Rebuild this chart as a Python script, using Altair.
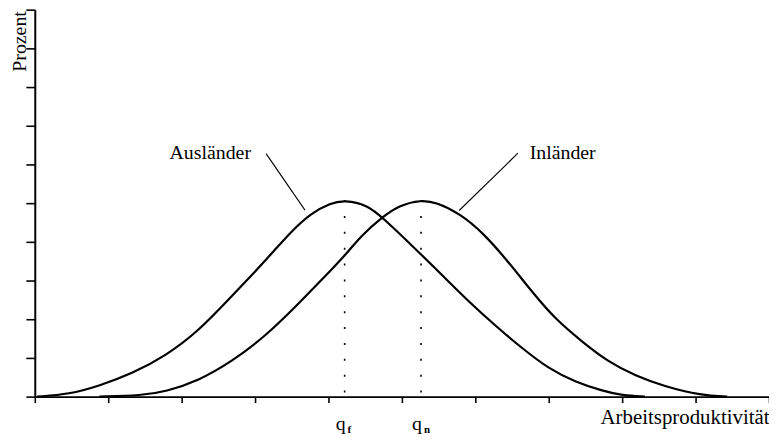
import altair as alt
import pandas as pd

# Ausländer curve
aus_x = [0.03, 0.47, 0.88, 1.32, 1.78, 2.23, 2.68, 3.00, 3.27, 3.49, 3.76, 4.03, 4.22, 4.53, 4.73, 5.20, 5.57, 5.92, 6.28, 6.65, 7.00, 7.36, 7.73, 8.00, 8.31]
aus_y = [0.0, 0.06, 0.28, 0.59, 1.05, 1.69, 2.59, 3.23, 3.79, 4.26, 4.74, 5.00, 5.08, 4.95, 4.64, 3.79, 3.10, 2.44, 1.82, 1.23, 0.72, 0.38, 0.15, 0.03, 0.0]

# Inländer curve
inl_x = [0.88, 1.46, 1.78, 2.23, 2.68, 3.14, 3.58, 3.95, 4.26, 4.43, 4.73, 4.97, 5.26, 5.47, 5.78, 6.11, 6.46, 6.78, 7.09, 7.46, 7.81, 8.18, 8.58, 9.08, 9.43]
inl_y = [0.0, 0.03, 0.13, 0.41, 0.90, 1.56, 2.38, 3.10, 3.72, 4.13, 4.64, 4.95, 5.08, 5.02, 4.74, 4.23, 3.46, 2.69, 2.00, 1.41, 0.90, 0.54, 0.26, 0.03, 0.0]

# Peaks (q_f, q_n)
peak_names = ["f", "n"]
peak_x = [4.22, 5.26]
peak_y = [5.08, 5.08]

# Curve labels and leader lines
label_text = ["Ausländer", "Inländer"]
label_x = [2.39, 7.19]
label_y = [6.15, 6.15]
leader_x1 = [3.15, 6.58]
leader_y1 = [6.28, 6.29]
leader_x2 = [3.68, 5.78]
leader_y2 = [4.82, 4.81]

ticks = list(range(0, 11))
FONT = "Liberation Serif"

curves = pd.concat([
    pd.DataFrame({"x": aus_x, "y": aus_y, "grp": "Ausländer"}),
    pd.DataFrame({"x": inl_x, "y": inl_y, "grp": "Inländer"}),
])
peaks = pd.DataFrame({"name": peak_names, "x": peak_x, "y": peak_y,
                      "y0": [0.0, 0.0], "ql": [-0.85, -0.85], "sl": [-0.94, -0.94],
                      "q": ["q", "q"]})
labels = pd.DataFrame({"text": label_text, "x": label_x, "y": label_y,
                       "x1": leader_x1, "y1": leader_y1, "x2": leader_x2, "y2": leader_y2})

xscale = alt.Scale(domain=[0, 10], nice=False, zero=False)
yscale = alt.Scale(domain=[0, 10], nice=False, zero=False)

xaxis = alt.Axis(values=ticks, tickCount=20, labels=False, tickSize=6, grid=False,
                 title="Arbeitsproduktivität", titleX=740, titleY=27,
                 titleAlign="right", titleBaseline="alphabetic",
                 titleFont=FONT, titleFontSize=21, titleFontWeight="normal",
                 titleColor="black")
yaxis = alt.Axis(values=ticks, tickCount=20, labels=False, tickSize=9, grid=False,
                 title="Prozent", titleX=-9, titleY=1, titleAngle=270,
                 titleAlign="right", titleBaseline="alphabetic",
                 titleFont=FONT, titleFontSize=20, titleFontWeight="normal",
                 titleColor="black")

lines = alt.Chart(curves).mark_line(color="black", strokeWidth=2.2, interpolate="basis").encode(
    x=alt.X("x:Q", scale=xscale, axis=xaxis),
    y=alt.Y("y:Q", scale=yscale, axis=yaxis),
    detail="grp:N",
)

dotted = alt.Chart(peaks).mark_rule(color="black", strokeWidth=1.6, strokeDash=[2, 14]).encode(
    x="x:Q", y="y:Q", y2="y0:Q"
)

qtext = alt.Chart(peaks).mark_text(font=FONT, fontSize=20, align="center",
                                   baseline="alphabetic", dx=-4, color="black").encode(
    x="x:Q", y="ql:Q", text="q:N"
)
subtext = alt.Chart(peaks).mark_text(font=FONT, fontSize=11, fontWeight="bold", align="left",
                                     baseline="alphabetic", dx=3, color="black").encode(
    x="x:Q", y="sl:Q", text="name:N"
)

lab = alt.Chart(labels).mark_text(font=FONT, fontSize=20, align="center",
                                  baseline="alphabetic", color="black").encode(
    x="x:Q", y="y:Q", text="text:N"
)
leaders = alt.Chart(labels).mark_rule(color="black", strokeWidth=1.1).encode(
    x="x1:Q", y="y1:Q", x2="x2:Q", y2="y2:Q"
)

chart = alt.layer(lines, dotted, leaders, lab, qtext, subtext).properties(
    width=740, height=390,
    autosize=alt.AutoSizeParams(type="none"),
    padding={"left": 27, "top": 0, "right": 0, "bottom": 38},
).configure_view(stroke=None).configure_axis(
    domainColor="black", domainWidth=2, tickColor="black", tickWidth=1.6
)

chart.save("out.html", embed_options={"renderer": "svg", "actions": False})
